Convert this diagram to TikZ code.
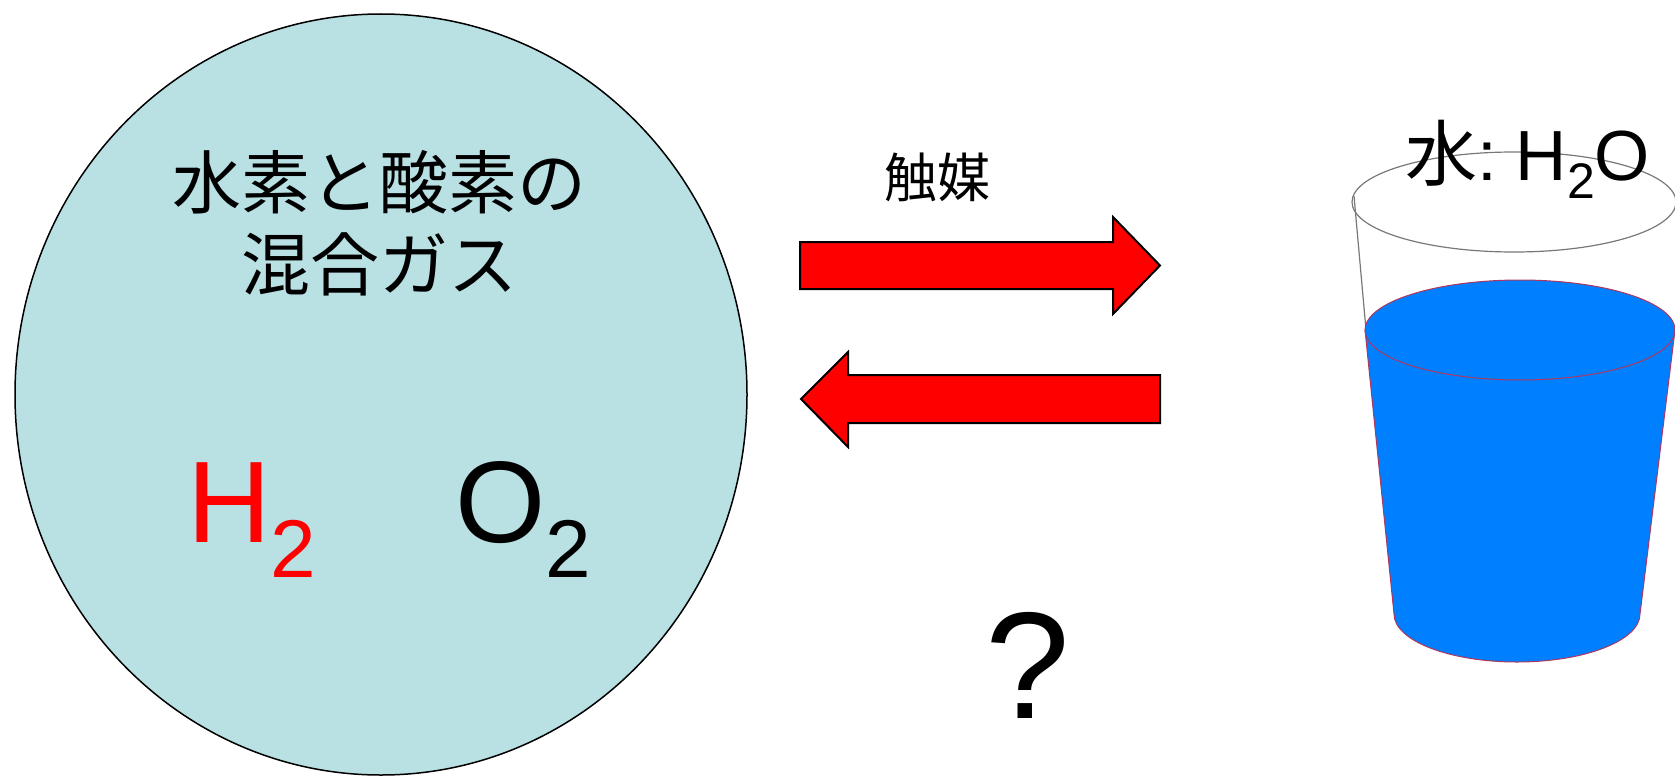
\documentclass[tikz,border=0pt]{standalone}
\usepackage{fontspec}
\setmainfont{Liberation Sans}
\newfontfamily\jpfont{Noto Sans CJK JP}
\definecolor{gasfill}{RGB}{185,224,227}
\definecolor{waterblue}{RGB}{0,128,255}
\definecolor{wateredge}{RGB}{175,55,95}
\definecolor{glassedge}{RGB}{120,120,120}
\newcommand{\fs}[1]{\fontsize{#1}{#1}\selectfont}
\begin{document}
\begin{tikzpicture}[x=1pt,y=-1pt,
  fatarrow/.style={fill=red,draw=black,line width=2pt,line join=miter},
  label/.style={inner sep=0pt,outer sep=0pt},
  glassline/.style={draw=glassedge,line width=1.2pt},
  water/.style={fill=waterblue,draw=wateredge,line width=1pt}]
\useasboundingbox (0,0) rectangle (1675,776);
\clip (0,0) rectangle (1675,776);

% gas mixture
\draw[fill=gasfill,line width=1.5pt] (381,394.5) ellipse[x radius=366,y radius=380.5];
\node[label,anchor=base] (gas1) at (379,208) {\jpfont\fs{69}水素と酸素の};
\node[label,anchor=base] (gas2) at (379,290) {\jpfont\fs{69}混合ガス};
\node[label,anchor=base west,text=red] (h2) at (187,542)
  {\fs{116}H\raisebox{-35pt}{\fs{82}2}};
\node[label,anchor=base west] (o2) at (455,542)
  {\fs{116}O\raisebox{-35pt}{\fs{82}2}};

% forward and backward reaction arrows
\draw[fatarrow] (800,242) -- (1113,242) -- (1113,217) -- (1160,265.5)
  -- (1113,314) -- (1113,289) -- (800,289) -- cycle;
\draw[fatarrow] (1160,375) -- (848,375) -- (848,352) -- (801,399)
  -- (848,447) -- (848,423) -- (1160,423) -- cycle;
\node[label,anchor=base] (cat) at (937,197) {\jpfont\fs{53}触媒};
\node[label,anchor=base] (q) at (1028,718) {\fs{152}?};

% glass of water
\draw[glassline,fill=white] (1514,202) ellipse[x radius=162,y radius=50];
\draw[glassline] (1354,196) -- (1366,330);
\draw[water] (1365,330) -- (1394,614)
  arc[start angle=180,end angle=0,x radius=123,y radius=48]
  -- (1675,330) -- cycle;
\draw[water] (1520,330) ellipse[x radius=155,y radius=50];
\node[label,anchor=base west] (h2o) at (1405,180)
  {{\jpfont\fs{72}水}\fs{71}:\hspace{0.27em}H\raisebox{-18pt}{\fs{50}2}O};
\end{tikzpicture}
\end{document}
